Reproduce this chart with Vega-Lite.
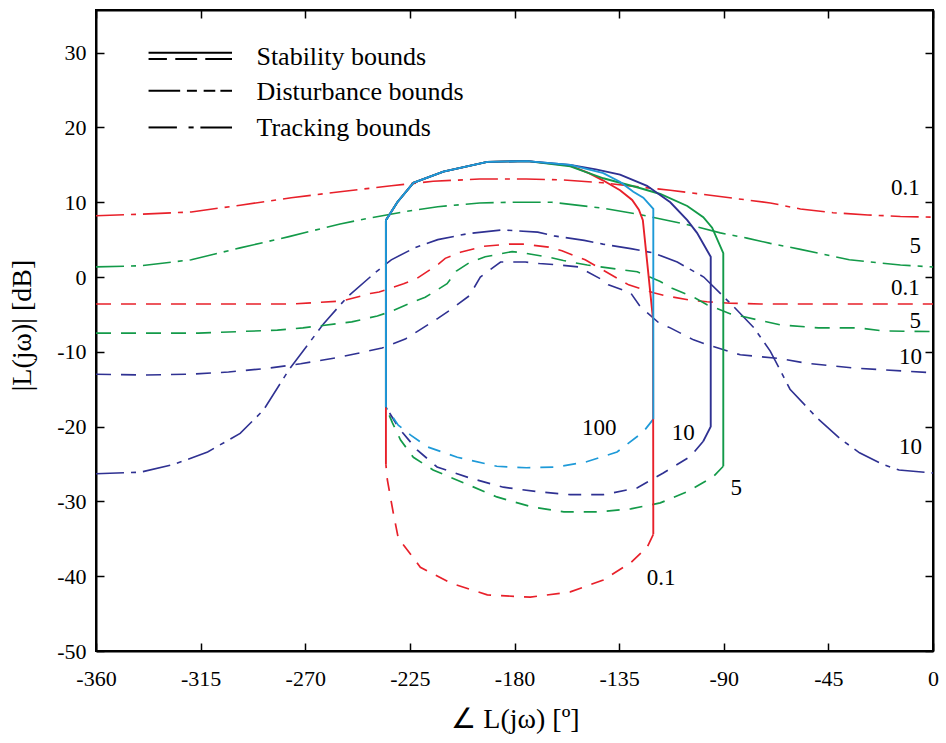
{
  "$schema": "https://vega.github.io/schema/vega-lite/v6.json",
  "width": 837,
  "height": 641,
  "autosize": {"type": "none"},
  "padding": {"left": 96, "top": 10, "right": 13, "bottom": 92},
  "background": "white",
  "config": {
    "view": {"stroke": "black", "strokeWidth": 2},
    "font": "Liberation Serif",
    "axis": {
      "domainColor": "black", "domainWidth": 2,
      "tickColor": "black", "tickWidth": 1.5, "tickSize": -8,
      "labelFont": "Liberation Serif", "labelFontSize": 22, "labelColor": "black", "labelFlush": false,
      "titleFont": "Liberation Serif", "titleFontWeight": "normal", "titleColor": "black",
      "grid": false
    }
  },
  "datasets": {
    "tracking": [
      {"w":"0.1","i":0,"a":-360,"m":8.2},{"w":"0.1","i":1,"a":-340,"m":8.4},{"w":"0.1","i":2,"a":-319,"m":8.7},{"w":"0.1","i":3,"a":-298,"m":9.6},{"w":"0.1","i":4,"a":-276,"m":10.6},{"w":"0.1","i":5,"a":-255,"m":11.4},{"w":"0.1","i":6,"a":-233,"m":12.2},{"w":"0.1","i":7,"a":-215,"m":12.8},{"w":"0.1","i":8,"a":-195,"m":13.1},{"w":"0.1","i":9,"a":-175,"m":13.1},{"w":"0.1","i":10,"a":-160,"m":13.0},{"w":"0.1","i":11,"a":-142,"m":12.6},{"w":"0.1","i":12,"a":-125,"m":12.0},{"w":"0.1","i":13,"a":-113,"m":11.6},{"w":"0.1","i":14,"a":-100,"m":11.1},{"w":"0.1","i":15,"a":-85,"m":10.5},{"w":"0.1","i":16,"a":-70,"m":9.9},{"w":"0.1","i":17,"a":-57,"m":9.1},{"w":"0.1","i":18,"a":-43,"m":8.6},{"w":"0.1","i":19,"a":-28,"m":8.3},{"w":"0.1","i":20,"a":-14,"m":8.1},{"w":"0.1","i":21,"a":0,"m":8.0},
      {"w":"5","i":0,"a":-360,"m":1.35},{"w":"5","i":1,"a":-341,"m":1.5},{"w":"5","i":2,"a":-319,"m":2.3},{"w":"5","i":3,"a":-298,"m":3.9},{"w":"5","i":4,"a":-277,"m":5.4},{"w":"5","i":5,"a":-255,"m":7.1},{"w":"5","i":6,"a":-242,"m":7.9},{"w":"5","i":7,"a":-228,"m":8.7},{"w":"5","i":8,"a":-213,"m":9.4},{"w":"5","i":9,"a":-195,"m":9.9},{"w":"5","i":10,"a":-180,"m":10.0},{"w":"5","i":11,"a":-164,"m":10.0},{"w":"5","i":12,"a":-142,"m":9.2},{"w":"5","i":13,"a":-127,"m":8.4},{"w":"5","i":14,"a":-113,"m":7.5},{"w":"5","i":15,"a":-100,"m":6.6},{"w":"5","i":16,"a":-91.5,"m":5.9},{"w":"5","i":17,"a":-80,"m":5.2},{"w":"5","i":18,"a":-70,"m":4.5},{"w":"5","i":19,"a":-57,"m":3.7},{"w":"5","i":20,"a":-36,"m":2.3},{"w":"5","i":21,"a":-14,"m":1.6},{"w":"5","i":22,"a":0,"m":1.35},
      {"w":"10","i":0,"a":-360,"m":-26.3},{"w":"10","i":1,"a":-341,"m":-26.1},{"w":"10","i":2,"a":-327,"m":-25.1},{"w":"10","i":3,"a":-312,"m":-23.4},{"w":"10","i":4,"a":-298,"m":-20.9},{"w":"10","i":5,"a":-288,"m":-17.8},{"w":"10","i":6,"a":-277,"m":-12.4},{"w":"10","i":7,"a":-262,"m":-6.2},{"w":"10","i":8,"a":-252,"m":-2.7},{"w":"10","i":9,"a":-241,"m":0.3},{"w":"10","i":10,"a":-233,"m":2.3},{"w":"10","i":11,"a":-223,"m":3.9},{"w":"10","i":12,"a":-213,"m":5.0},{"w":"10","i":13,"a":-200,"m":5.8},{"w":"10","i":14,"a":-185,"m":6.3},{"w":"10","i":15,"a":-170,"m":6.0},{"w":"10","i":16,"a":-163,"m":5.5},{"w":"10","i":17,"a":-150,"m":4.9},{"w":"10","i":18,"a":-142,"m":4.4},{"w":"10","i":19,"a":-130,"m":3.8},{"w":"10","i":20,"a":-120,"m":3.2},{"w":"10","i":21,"a":-110,"m":2.0},{"w":"10","i":22,"a":-98.6,"m":0.0},{"w":"10","i":23,"a":-85.6,"m":-4.0},{"w":"10","i":24,"a":-77,"m":-6.8},{"w":"10","i":25,"a":-70,"m":-9.9},{"w":"10","i":26,"a":-61.5,"m":-15.0},{"w":"10","i":27,"a":-50,"m":-18.8},{"w":"10","i":28,"a":-40,"m":-21.6},{"w":"10","i":29,"a":-31.6,"m":-23.5},{"w":"10","i":30,"a":-22,"m":-25.0},{"w":"10","i":31,"a":-14.6,"m":-25.8},{"w":"10","i":32,"a":0,"m":-26.2}
    ],
    "disturbance": [
      {"w":"0.1","i":0,"a":-360,"m":-3.6},{"w":"0.1","i":1,"a":-330,"m":-3.6},{"w":"0.1","i":2,"a":-300,"m":-3.6},{"w":"0.1","i":3,"a":-275.6,"m":-3.6},{"w":"0.1","i":4,"a":-254,"m":-3.2},{"w":"0.1","i":5,"a":-242,"m":-2.2},{"w":"0.1","i":6,"a":-238.2,"m":-2.0},{"w":"0.1","i":7,"a":-227.7,"m":-0.9},{"w":"0.1","i":8,"a":-222,"m":-0.2},{"w":"0.1","i":9,"a":-212.6,"m":1.75},{"w":"0.1","i":10,"a":-209.8,"m":2.5},{"w":"0.1","i":11,"a":-203.3,"m":3.3},{"w":"0.1","i":12,"a":-193.3,"m":4.1},{"w":"0.1","i":13,"a":-182.1,"m":4.4},{"w":"0.1","i":14,"a":-176.3,"m":4.4},{"w":"0.1","i":15,"a":-165.3,"m":4.0},{"w":"0.1","i":16,"a":-159.6,"m":3.5},{"w":"0.1","i":17,"a":-149.6,"m":2.3},{"w":"0.1","i":18,"a":-130.9,"m":-1.05},{"w":"0.1","i":19,"a":-120.2,"m":-2.1},{"w":"0.1","i":20,"a":-115.1,"m":-2.5},{"w":"0.1","i":21,"a":-104.4,"m":-3.1},{"w":"0.1","i":22,"a":-97.2,"m":-3.3},{"w":"0.1","i":23,"a":-87.2,"m":-3.5},{"w":"0.1","i":24,"a":-74.3,"m":-3.6},{"w":"0.1","i":25,"a":-45,"m":-3.6},{"w":"0.1","i":26,"a":0,"m":-3.6},
      {"w":"5","i":0,"a":-360,"m":-7.5},{"w":"5","i":1,"a":-340,"m":-7.5},{"w":"5","i":2,"a":-316,"m":-7.5},{"w":"5","i":3,"a":-299,"m":-7.3},{"w":"5","i":4,"a":-282,"m":-7.1},{"w":"5","i":5,"a":-271,"m":-6.8},{"w":"5","i":6,"a":-250,"m":-6.0},{"w":"5","i":7,"a":-239,"m":-5.2},{"w":"5","i":8,"a":-233,"m":-4.6},{"w":"5","i":9,"a":-223.5,"m":-3.3},{"w":"5","i":10,"a":-218.4,"m":-2.7},{"w":"5","i":11,"a":-209,"m":-0.9},{"w":"5","i":12,"a":-205,"m":0.8},{"w":"5","i":13,"a":-199,"m":2.0},{"w":"5","i":14,"a":-192.6,"m":2.7},{"w":"5","i":15,"a":-181,"m":3.4},{"w":"5","i":16,"a":-175.7,"m":3.2},{"w":"5","i":17,"a":-164.6,"m":2.6},{"w":"5","i":18,"a":-159,"m":2.2},{"w":"5","i":19,"a":-148.7,"m":1.6},{"w":"5","i":20,"a":-127.2,"m":0.7},{"w":"5","i":21,"a":-117.3,"m":-0.6},{"w":"5","i":22,"a":-112.2,"m":-1.5},{"w":"5","i":23,"a":-102.3,"m":-2.8},{"w":"5","i":24,"a":-97.2,"m":-3.7},{"w":"5","i":25,"a":-87.3,"m":-4.9},{"w":"5","i":26,"a":-74.4,"m":-5.8},{"w":"5","i":27,"a":-65.7,"m":-6.4},{"w":"5","i":28,"a":-49.3,"m":-6.8},{"w":"5","i":29,"a":-32.2,"m":-6.8},{"w":"5","i":30,"a":-21.4,"m":-7.2},{"w":"5","i":31,"a":0,"m":-7.3},
      {"w":"10","i":0,"a":-360,"m":-13.0},{"w":"10","i":1,"a":-340,"m":-13.1},{"w":"10","i":2,"a":-320,"m":-13.0},{"w":"10","i":3,"a":-303,"m":-12.7},{"w":"10","i":4,"a":-286,"m":-12.2},{"w":"10","i":5,"a":-272,"m":-11.6},{"w":"10","i":6,"a":-255,"m":-10.7},{"w":"10","i":7,"a":-237,"m":-9.5},{"w":"10","i":8,"a":-227,"m":-8.3},{"w":"10","i":9,"a":-221.9,"m":-7.3},{"w":"10","i":10,"a":-212.8,"m":-5.5},{"w":"10","i":11,"a":-207.6,"m":-4.4},{"w":"10","i":12,"a":-199.4,"m":-2.5},{"w":"10","i":13,"a":-194.7,"m":0.0},{"w":"10","i":14,"a":-190,"m":1.1},{"w":"10","i":15,"a":-186,"m":2.0},{"w":"10","i":16,"a":-175.3,"m":2.0},{"w":"10","i":17,"a":-169.3,"m":1.8},{"w":"10","i":18,"a":-160.3,"m":1.6},{"w":"10","i":19,"a":-152.6,"m":1.35},{"w":"10","i":20,"a":-143,"m":-0.25},{"w":"10","i":21,"a":-139.6,"m":-1.05},{"w":"10","i":22,"a":-130.1,"m":-2.1},{"w":"10","i":23,"a":-125.8,"m":-4.0},{"w":"10","i":24,"a":-118,"m":-6.1},{"w":"10","i":25,"a":-113,"m":-6.8},{"w":"10","i":26,"a":-103,"m":-8.4},{"w":"10","i":27,"a":-96.6,"m":-9.1},{"w":"10","i":28,"a":-87.2,"m":-10.0},{"w":"10","i":29,"a":-82.9,"m":-10.4},{"w":"10","i":30,"a":-65.7,"m":-10.9},{"w":"10","i":31,"a":-55,"m":-11.5},{"w":"10","i":32,"a":-32.6,"m":-12.2},{"w":"10","i":33,"a":-21.4,"m":-12.4},{"w":"10","i":34,"a":0,"m":-12.8}
    ],
    "stabUpper": [
      {"w":"0.1","i":0,"a":-235.3,"m":-25.1},{"w":"0.1","i":1,"a":-235.3,"m":-17.4},{"w":"0.1","i":2,"a":-235.3,"m":7.6},{"w":"0.1","i":3,"a":-230.4,"m":10.0},{"w":"0.1","i":4,"a":-223.5,"m":12.6},{"w":"0.1","i":5,"a":-210.6,"m":14.1},{"w":"0.1","i":6,"a":-191.7,"m":15.4},{"w":"0.1","i":7,"a":-174.5,"m":15.5},{"w":"0.1","i":8,"a":-156,"m":14.9},{"w":"0.1","i":9,"a":-148,"m":13.9},{"w":"0.1","i":10,"a":-141.8,"m":12.9},{"w":"0.1","i":11,"a":-134.6,"m":11.6},{"w":"0.1","i":12,"a":-129.4,"m":10.3},{"w":"0.1","i":13,"a":-126.5,"m":9.0},{"w":"0.1","i":14,"a":-124.8,"m":7.6},{"w":"0.1","i":15,"a":-120.4,"m":-5.7},{"w":"0.1","i":16,"a":-120.3,"m":-34.4},
      {"w":"5","i":0,"a":-235.3,"m":-17.4},{"w":"5","i":1,"a":-235.3,"m":7.6},{"w":"5","i":2,"a":-230.4,"m":10.0},{"w":"5","i":3,"a":-223.5,"m":12.6},{"w":"5","i":4,"a":-210.6,"m":14.1},{"w":"5","i":5,"a":-191.7,"m":15.4},{"w":"5","i":6,"a":-174.5,"m":15.5},{"w":"5","i":7,"a":-156,"m":14.8},{"w":"5","i":8,"a":-141.8,"m":13.2},{"w":"5","i":9,"a":-134.6,"m":12.6},{"w":"5","i":10,"a":-127.3,"m":12.0},{"w":"5","i":11,"a":-117.3,"m":11.1},{"w":"5","i":12,"a":-105.7,"m":9.5},{"w":"5","i":13,"a":-98.8,"m":8.0},{"w":"5","i":14,"a":-95,"m":6.6},{"w":"5","i":15,"a":-90.2,"m":3.2},{"w":"5","i":16,"a":-90.2,"m":-25.3},
      {"w":"10","i":0,"a":-235.3,"m":-17.4},{"w":"10","i":1,"a":-235.3,"m":7.6},{"w":"10","i":2,"a":-230.4,"m":10.0},{"w":"10","i":3,"a":-223.5,"m":12.6},{"w":"10","i":4,"a":-210.6,"m":14.1},{"w":"10","i":5,"a":-191.7,"m":15.4},{"w":"10","i":6,"a":-174.5,"m":15.5},{"w":"10","i":7,"a":-156,"m":15.0},{"w":"10","i":8,"a":-145,"m":14.4},{"w":"10","i":9,"a":-134.6,"m":13.7},{"w":"10","i":10,"a":-123,"m":12.2},{"w":"10","i":11,"a":-113,"m":10.0},{"w":"10","i":12,"a":-105.7,"m":7.6},{"w":"10","i":13,"a":-101.5,"m":5.9},{"w":"10","i":14,"a":-95.6,"m":2.7},{"w":"10","i":15,"a":-95.6,"m":-20.0},{"w":"10","i":16,"a":-98.9,"m":-22.0},
      {"w":"100","i":0,"a":-235.3,"m":-17.4},{"w":"100","i":1,"a":-235.3,"m":7.6},{"w":"100","i":2,"a":-230.4,"m":10.0},{"w":"100","i":3,"a":-223.5,"m":12.6},{"w":"100","i":4,"a":-210.6,"m":14.1},{"w":"100","i":5,"a":-191.7,"m":15.4},{"w":"100","i":6,"a":-174.5,"m":15.5},{"w":"100","i":7,"a":-156,"m":15.0},{"w":"100","i":8,"a":-141.8,"m":13.9},{"w":"100","i":9,"a":-134.5,"m":12.7},{"w":"100","i":10,"a":-128.9,"m":11.4},{"w":"100","i":11,"a":-124.6,"m":10.6},{"w":"100","i":12,"a":-120.3,"m":9.1},{"w":"100","i":13,"a":-120.3,"m":-19.0}
    ],
    "stabLower": [
      {"w":"0.1","i":0,"a":-120.3,"m":-34.4},{"w":"0.1","i":1,"a":-122.9,"m":-36.1},{"w":"0.1","i":2,"a":-130,"m":-38.2},{"w":"0.1","i":3,"a":-141.8,"m":-40.5},{"w":"0.1","i":4,"a":-156,"m":-42.1},{"w":"0.1","i":5,"a":-173.2,"m":-42.8},{"w":"0.1","i":6,"a":-191.7,"m":-42.5},{"w":"0.1","i":7,"a":-207.6,"m":-40.9},{"w":"0.1","i":8,"a":-220.5,"m":-38.8},{"w":"0.1","i":9,"a":-230,"m":-34.9},{"w":"0.1","i":10,"a":-232.1,"m":-31.6},{"w":"0.1","i":11,"a":-234.7,"m":-27.1},{"w":"0.1","i":12,"a":-235.3,"m":-25.1},
      {"w":"5","i":0,"a":-90.2,"m":-25.3},{"w":"5","i":1,"a":-94.5,"m":-26.7},{"w":"5","i":2,"a":-105.7,"m":-28.7},{"w":"5","i":3,"a":-117.3,"m":-30.2},{"w":"5","i":4,"a":-130,"m":-31.0},{"w":"5","i":5,"a":-144.3,"m":-31.4},{"w":"5","i":6,"a":-158.8,"m":-31.4},{"w":"5","i":7,"a":-173,"m":-30.7},{"w":"5","i":8,"a":-187.6,"m":-29.4},{"w":"5","i":9,"a":-202,"m":-27.5},{"w":"5","i":10,"a":-215,"m":-25.8},{"w":"5","i":11,"a":-223.5,"m":-24.1},{"w":"5","i":12,"a":-229,"m":-21.8},{"w":"5","i":13,"a":-232.5,"m":-19.5},{"w":"5","i":14,"a":-235.3,"m":-17.4},
      {"w":"10","i":0,"a":-98.9,"m":-22.0},{"w":"10","i":1,"a":-104.4,"m":-24.0},{"w":"10","i":2,"a":-116,"m":-26.2},{"w":"10","i":3,"a":-127.3,"m":-28.2},{"w":"10","i":4,"a":-141.8,"m":-29.1},{"w":"10","i":5,"a":-156,"m":-29.1},{"w":"10","i":6,"a":-170.2,"m":-28.7},{"w":"10","i":7,"a":-184.8,"m":-28.1},{"w":"10","i":8,"a":-199,"m":-26.9},{"w":"10","i":9,"a":-213.3,"m":-25.4},{"w":"10","i":10,"a":-221.9,"m":-23.1},{"w":"10","i":11,"a":-227.9,"m":-20.9},{"w":"10","i":12,"a":-230.5,"m":-19.8},{"w":"10","i":13,"a":-235.3,"m":-17.4},
      {"w":"100","i":0,"a":-120.3,"m":-19.0},{"w":"100","i":1,"a":-124.6,"m":-20.7},{"w":"100","i":2,"a":-135.9,"m":-23.4},{"w":"100","i":3,"a":-149,"m":-24.7},{"w":"100","i":4,"a":-161.9,"m":-25.4},{"w":"100","i":5,"a":-174.8,"m":-25.5},{"w":"100","i":6,"a":-187.6,"m":-25.3},{"w":"100","i":7,"a":-204.6,"m":-24.1},{"w":"100","i":8,"a":-217.5,"m":-22.7},{"w":"100","i":9,"a":-224.8,"m":-21.1},{"w":"100","i":10,"a":-230,"m":-19.8},{"w":"100","i":11,"a":-235.3,"m":-17.4}
    ],
    "legendKey": [
      {"seg":"s1","i":0,"a":-337.4,"m":30.0},{"seg":"s1","i":1,"a":-301.5,"m":30.0},
      {"seg":"s2","i":0,"a":-337.4,"m":29.15},{"seg":"s2","i":1,"a":-329.5,"m":29.15},
      {"seg":"s3","i":0,"a":-325.9,"m":29.15},{"seg":"s3","i":1,"a":-316.5,"m":29.15},
      {"seg":"s4","i":0,"a":-313.0,"m":29.15},{"seg":"s4","i":1,"a":-301.5,"m":29.15},
      {"seg":"d1","i":0,"a":-337.4,"m":24.9},{"seg":"d1","i":1,"a":-323.8,"m":24.9},
      {"seg":"d2","i":0,"a":-320.9,"m":24.9},{"seg":"d2","i":1,"a":-316.6,"m":24.9},
      {"seg":"d3","i":0,"a":-313.7,"m":24.9},{"seg":"d3","i":1,"a":-308.7,"m":24.9},
      {"seg":"d4","i":0,"a":-306.5,"m":24.9},{"seg":"d4","i":1,"a":-301.5,"m":24.9},
      {"seg":"t1","i":0,"a":-337.4,"m":20.0},{"seg":"t1","i":1,"a":-325.2,"m":20.0},
      {"seg":"t2","i":0,"a":-320.2,"m":20.0},{"seg":"t2","i":1,"a":-318.0,"m":20.0},
      {"seg":"t3","i":0,"a":-315.1,"m":20.0},{"seg":"t3","i":1,"a":-301.5,"m":20.0}
    ],
    "legendText": [
      {"t":"Stability bounds","a":-291.0,"m":28.4},
      {"t":"Disturbance bounds","a":-291.0,"m":23.7},
      {"t":"Tracking bounds","a":-291.0,"m":18.8}
    ],
    "curveLabels": [
      {"t":"0.1","a":-11.9,"m":11.9},
      {"t":"5","a":-7.6,"m":4.2},
      {"t":"0.1","a":-11.9,"m":-1.5},
      {"t":"5","a":-7.6,"m":-5.9},
      {"t":"10","a":-9.7,"m":-10.7},
      {"t":"10","a":-9.7,"m":-22.7},
      {"t":"100","a":-143.5,"m":-20.2},
      {"t":"10","a":-107.4,"m":-20.9},
      {"t":"5","a":-84.6,"m":-28.2},
      {"t":"0.1","a":-116.9,"m":-40.2}
    ]
  },
  "encoding": {
    "x": {"field": "a", "type": "quantitative", "scale": {"domain": [-360, 0], "nice": false, "zero": false}, "axis": null},
    "y": {"field": "m", "type": "quantitative", "scale": {"domain": [-50, 35.7], "nice": false, "zero": false}, "axis": null}
  },
  "resolve": {"axis": {"x": "independent", "y": "independent"}},
  "layer": [
    {
      "data": {"name": "tracking"},
      "mark": {"type": "line", "strokeWidth": 1.6, "strokeDash": [28, 7, 5, 7]},
      "encoding": {
        "x": {"field": "a", "type": "quantitative", "scale": {"domain": [-360, 0], "nice": false, "zero": false},
          "axis": {"orient": "bottom", "values": [-360, -315, -270, -225, -180, -135, -90, -45, 0], "labelExpr": "toString(datum.value)", "labelPadding": 25,
            "title": "∠ L(jω) [º]", "titleFontSize": 28, "titleX": 419, "titleY": 68, "titleBaseline": "middle", "titleAlign": "center"}},
        "y": {"field": "m", "type": "quantitative", "scale": {"domain": [-50, 35.7], "nice": false, "zero": false},
          "axis": {"orient": "left", "values": [-50, -40, -30, -20, -10, 0, 10, 20, 30], "labelExpr": "toString(datum.value)", "labelPadding": 18,
            "title": "|L(jω)| [dB]", "titleFontSize": 28, "titleX": -74, "titleY": 315, "titleAngle": -90, "titleBaseline": "middle", "titleAlign": "center"}},
        "color": {"field": "w", "type": "nominal", "scale": {"domain": ["0.1", "5", "10", "100"], "range": ["#E8202A", "#139A49", "#2F3192", "#1E9AD8"]}, "legend": null},
        "detail": {"field": "w"},
        "order": {"field": "i", "type": "quantitative"}
      }
    },
    {
      "data": {"name": "disturbance"},
      "mark": {"type": "line", "strokeWidth": 1.6, "strokeDash": [15, 10]},
      "encoding": {
        "x": {"field": "a", "type": "quantitative", "scale": {"domain": [-360, 0], "nice": false, "zero": false},
          "axis": {"orient": "top", "values": [-360, -315, -270, -225, -180, -135, -90, -45, 0], "labels": false, "title": null}},
        "y": {"field": "m", "type": "quantitative", "scale": {"domain": [-50, 35.7], "nice": false, "zero": false},
          "axis": {"orient": "right", "values": [-50, -40, -30, -20, -10, 0, 10, 20, 30], "labels": false, "title": null}},
        "color": {"field": "w", "type": "nominal", "legend": null},
        "detail": {"field": "w"},
        "order": {"field": "i", "type": "quantitative"}
      }
    },
    {
      "data": {"name": "stabLower"},
      "mark": {"type": "line", "strokeWidth": 1.7, "strokeDash": [13, 10]},
      "encoding": {
        "color": {"field": "w", "type": "nominal", "legend": null},
        "detail": {"field": "w"},
        "order": {"field": "i", "type": "quantitative"}
      }
    },
    {
      "data": {"name": "stabUpper"},
      "mark": {"type": "line", "strokeWidth": 1.9},
      "encoding": {
        "color": {"field": "w", "type": "nominal", "legend": null},
        "detail": {"field": "w"},
        "order": {"field": "i", "type": "quantitative"}
      }
    },
    {
      "data": {"name": "legendKey"},
      "mark": {"type": "line", "strokeWidth": 2, "color": "black"},
      "encoding": {
        "detail": {"field": "seg"},
        "order": {"field": "i", "type": "quantitative"}
      }
    },
    {
      "data": {"name": "legendText"},
      "mark": {"type": "text", "align": "left", "baseline": "alphabetic", "font": "Liberation Serif", "fontSize": 26, "color": "black"},
      "encoding": {"text": {"field": "t"}}
    },
    {
      "data": {"name": "curveLabels"},
      "mark": {"type": "text", "align": "center", "baseline": "middle", "font": "Liberation Serif", "fontSize": 23, "color": "black"},
      "encoding": {"text": {"field": "t"}}
    }
  ]
}
